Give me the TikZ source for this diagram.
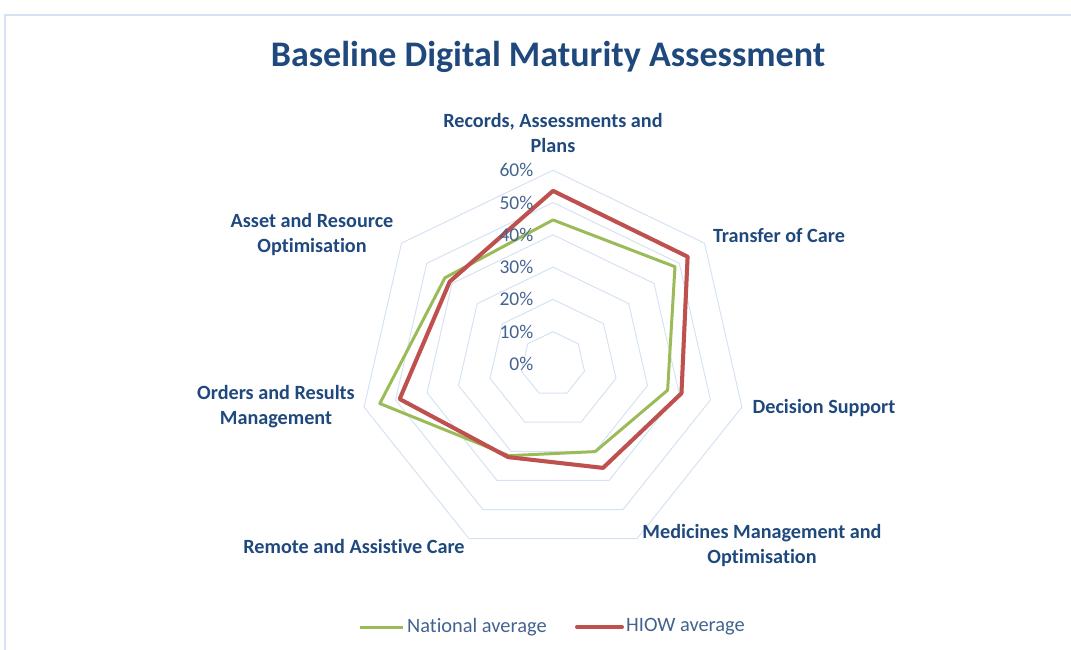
\documentclass[tikz,border=0pt]{standalone}
\usepackage{fontspec}
\setmainfont{Carlito}[Ligatures=NoCommon]
\usepackage{xcolor}
\usepackage{tikz}
\usetikzlibrary{calc}
\definecolor{titleblue}{HTML}{1F497D}
\definecolor{tickblue}{HTML}{43638F}
\definecolor{gridblue}{HTML}{D6E2F3}
\definecolor{natgreen}{HTML}{9BBB59}
\definecolor{hiowred}{HTML}{C0504D}

\begin{document}
\begin{tikzpicture}[x=1pt, y=1pt,
    every node/.style={inner sep=0pt},
    axislabel/.style={font=\fontsize{20.2}{25}\selectfont\bfseries, text=titleblue, align=center},
    ticklabel/.style={font=\fontsize{19.5}{20}\selectfont, text=tickblue, anchor=east},
    keylabel/.style={font=\fontsize{20.4}{22}\selectfont, text=tickblue, anchor=west},
    ring/.style={draw=gridblue, line width=1pt},
    natline/.style={draw=natgreen, line width=3pt, line join=round},
    hiowline/.style={draw=hiowred, line width=4pt, line join=round}]
    \useasboundingbox (0,-650) rectangle (1071,0);

    % Chart frame
    \draw[gridblue, line width=1.5pt] (5,-650) -- (5,-15) -- (1071,-15);

    % Title
    \node[font=\fontsize{36}{40}\selectfont\bfseries, text=titleblue] (title) at (548,-57) {Baseline Digital Maturity Assessment};

    \coordinate (c) at (553,-364);
    \begin{scope}[shift={(c)}]
        % Grid rings (10% steps)
        \foreach \r in {1,...,6}{
            \draw[ring] (90:\r*32.3) \foreach \k in {1,...,6}{ -- (90-\k*360/7:\r*32.3) } -- cycle;
        }

        % Data points
        \foreach \v [count=\k from 0] in {44.6,48.3,36.4,30.1,31.5,55.0,42.8}{
            \coordinate (nat\k) at (90-\k*360/7:\v*3.23);
        }
        \foreach \v [count=\k from 0] in {53.6,53.3,40.8,35.7,32.0,48.7,40.9}{
            \coordinate (hiow\k) at (90-\k*360/7:\v*3.23);
        }
    \end{scope}

    % Series
    \draw[natline] (nat0) -- (nat1) -- (nat2) -- (nat3) -- (nat4) -- (nat5) -- (nat6) -- cycle;
    \draw[black, opacity=0.15, line width=4pt, line join=round, shift={(1.5,-1.5)}]
        (hiow0) -- (hiow1) -- (hiow2) -- (hiow3) -- (hiow4) -- (hiow5) -- (hiow6) -- cycle;
    \draw[hiowline] (hiow0) -- (hiow1) -- (hiow2) -- (hiow3) -- (hiow4) -- (hiow5) -- (hiow6) -- cycle;

    % Tick labels
    \foreach \p in {0,...,6}{
        \pgfmathtruncatemacro{\pct}{\p*10}
        \node[ticklabel] (tick\p) at (533.5,-364+\p*32.3) {\pct\%};
    }

    % Category labels
    \node[axislabel] (records) at (553,-133) {Records, Assessments and\\Plans};
    \node[axislabel] (transfer) at (779,-236) {Transfer of Care};
    \node[axislabel] (decision) at (824,-408) {Decision Support};
    \node[axislabel] (medicines) at (762,-545) {Medicines Management and\\Optimisation};
    \node[axislabel] (remote) at (354,-546) {Remote and Assistive Care};
    \node[axislabel] (orders) at (276,-407) {Orders and Results\\Management};
    \node[axislabel] (asset) at (312,-235) {Asset and Resource\\Optimisation};

    % Legend
    \node[keylabel] (natkey) at (407,-627) {National average};
    \node[keylabel] (hiowkey) at (626,-627) {HIOW average};
    \coordinate (natstart) at ($(natkey.west)+(-47,0)$);
    \coordinate (hiowstart) at ($(hiowkey.west)+(-49,0)$);
    \draw[natgreen, line width=3pt] (natstart) -- ($(natkey.west)+(-4,0)$);
    \draw[hiowred, line width=4pt, line cap=round] (hiowstart) -- ($(hiowkey.west)+(-4,0)$);
\end{tikzpicture}
\end{document}
